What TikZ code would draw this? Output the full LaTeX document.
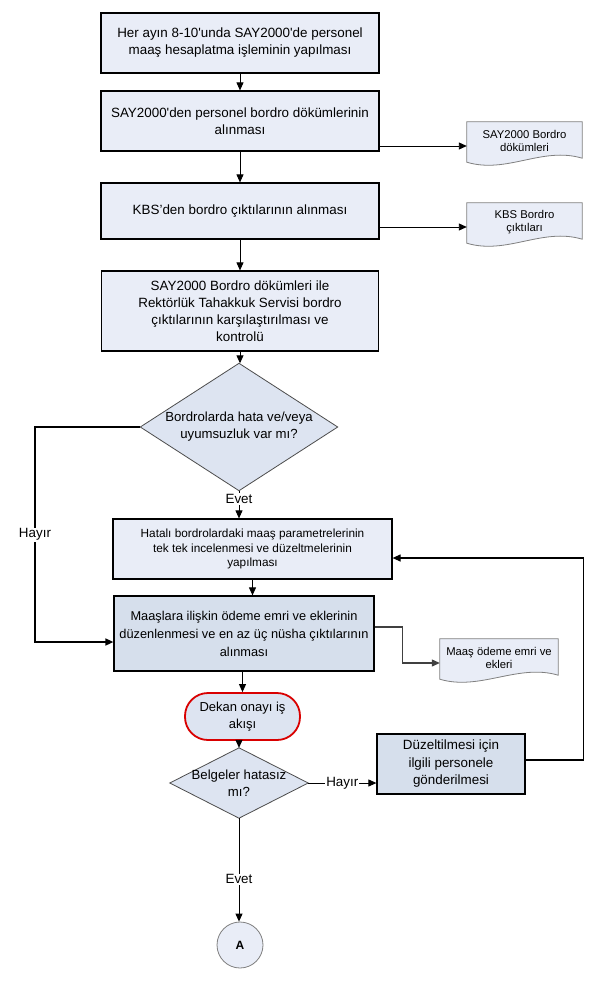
\documentclass[tikz,border=0pt]{standalone}
\usepackage{fontspec}
\setmainfont{Liberation Sans}
\usetikzlibrary{arrows.meta,calc,backgrounds}

\definecolor{kutu}{RGB}{233,237,247}
\definecolor{koyu}{RGB}{214,223,236}
\definecolor{sorurenk}{RGB}{221,228,241}

\begin{document}
\begin{tikzpicture}[x=1pt,y=-1pt,
        islem/.style={draw,line width=1.2pt,fill=kutu,align=center,inner sep=2pt,
            font=\fontsize{13.4}{17}\selectfont},
        islemkoyu/.style={islem,fill=koyu},
        soru/.style={inner sep=0pt,align=center,font=\fontsize{13.2}{17}\selectfont},
        sorucizgi/.style={draw=black!70,line width=0.8pt,fill=sorurenk},
        belge/.style={inner sep=1pt,align=center,font=\fontsize{11.3}{13.5}\selectfont},
        belgecizgi/.style={draw=black!50,line width=0.8pt,fill=kutu},
        bitis/.style={draw=red!85!black,line width=1.8pt,fill=sorurenk,rounded corners=23pt,
            align=center,inner sep=1pt,font=\fontsize{13}{17}\selectfont},
        baglanti/.style={circle,draw=black!50,line width=0.8pt,fill=kutu,minimum size=46pt,
            inner sep=0pt,font=\fontsize{12}{14}\selectfont\bfseries},
        ok/.style={-{Triangle[length=8pt,width=7pt]},line width=0.9pt},
        etiket/.style={fill=white,inner sep=1pt,font=\fontsize{13.4}{16}\selectfont}]

    \useasboundingbox (0,0) rectangle (590,983);

    % ana akis
    \node[islem,minimum width=278pt,minimum height=60pt] (sayhesap) at (240,43)
        {Her ayın 8-10\textquotesingle{}unda SAY2000\textquotesingle{}de personel\\maaş hesaplatma işleminin yapılması};
    \node[islem,minimum width=278pt,minimum height=60pt] (saydokum) at (240,121)
        {SAY2000\textquotesingle{}den personel bordro dökümlerinin\\alınması};
    \node[islem,minimum width=278pt,minimum height=56pt] (kbscikti) at (240,211)
        {KBS’den bordro çıktılarının alınması};
    \node[islem,minimum width=277pt,minimum height=80pt] (karsilas) at (240,311)
        {SAY2000 Bordro dökümleri ile\\Rektörlük Tahakkuk Servisi bordro\\çıktılarının karşılaştırılması ve\\kontrolü};
    \node[soru,minimum width=197pt,minimum height=127pt] (hatavar) at (239,427)
        {Bordrolarda hata ve/veya\\uyumsuzluk var mı?};
    \node[islem,minimum width=279pt,minimum height=60pt,font=\fontsize{11.8}{14.5}\selectfont] (duzelt) at (252.5,549)
        {Hatalı bordrolardaki maaş parametrelerinin\\tek tek incelenmesi ve düzeltmelerinin\\yapılması};
    \node[islemkoyu,minimum width=260pt,minimum height=75pt,font=\fontsize{12.8}{18}\selectfont] (odeme) at (244,633.5)
        {Maaşlara ilişkin ödeme emri ve eklerinin\\düzenlenmesi ve en az üç nüsha çıktılarının\\alınması};
    \node[bitis,minimum width=115pt,minimum height=47pt] (dekan) at (242.5,716.5) {Dekan onayı iş\\akışı};
    \node[soru,minimum width=138pt,minimum height=70pt] (hatasiz) at (239,783) {Belgeler hatasız\\mı?};
    \node[islemkoyu,minimum width=148pt,minimum height=60pt,font=\fontsize{13.4}{17.5}\selectfont] (gonder) at (451,764)
        {Düzeltilmesi için\\ilgili personele\\gönderilmesi};
    \node[baglanti] (conA) at (240,945) {A};

    % belgeler
    \node[belge,minimum width=115pt,minimum height=38pt] (docsay) at (524.5,141) {SAY2000 Bordro\\dökümleri};
    \node[belge,minimum width=115pt,minimum height=38pt] (dockbs) at (524.5,222) {KBS Bordro\\çıktıları};
    \node[belge,minimum width=118pt,minimum height=38pt] (docodeme) at (499,658) {Maaş ödeme emri ve\\ekleri};

    \begin{scope}[on background layer]
        \fill[white] (0,0) rectangle (590,983);
        \foreach \k in {hatavar,hatasiz} {
            \path[sorucizgi] (\k.north) -- (\k.east) -- (\k.south) -- (\k.west) -- cycle;
        }
        \foreach \d in {docsay,dockbs,docodeme} {
            \path[belgecizgi] (\d.north west) -- (\d.north east) -- ($(\d.south east)+(0,-2)$)
                .. controls ($(\d.south east)+(-40,-14)$) and ($(\d.south west)+(40,14)$)
                .. ($(\d.south west)+(0,2)$) -- cycle;
        }
    \end{scope}

    % oklar
    \draw[ok] (sayhesap) -- (saydokum);
    \draw[ok] (saydokum) -- (kbscikti);
    \draw[ok] (kbscikti) -- (karsilas);
    \draw[ok] (karsilas.south) -- (karsilas.south |- hatavar.north);
    \draw[ok] ([yshift=-5pt]docsay.west -| saydokum.east) -- ([yshift=-5pt]docsay.west);
    \draw[ok] ([yshift=-5pt]dockbs.west -| kbscikti.east) -- ([yshift=-5pt]dockbs.west);
    \draw[ok] (hatavar.south) -- node[etiket,pos=0.3] (evet1) {Evet} (hatavar.south |- duzelt.north);
    \draw[ok] (duzelt.south) -- (duzelt.south |- odeme.north);
    \draw[ok] (dekan.north |- odeme.south) -- (dekan.north);
    \draw[ok] (hatasiz.north |- dekan.south) -- (hatasiz.north);

    % hayir dallari
    \coordinate (solkose) at (35,642);
    \draw[ok,line width=1.5pt] (hatavar.west) -| node[etiket,pos=0.75] (hayir1) {Hayır} (solkose)
        -- (solkose -| odeme.west);
    \draw[ok] (hatasiz.east) -- node[etiket] (hayir2) {Hayır} (hatasiz.east -| gonder.west);
    \draw[ok,line width=1.2pt] ([yshift=4pt]gonder.east) -- ++(58,0) |- ([yshift=-9pt]duzelt.east);
    \draw[ok,draw=black!75,line width=1.2pt] ([yshift=6.5pt]odeme.east) -- ++(28,0)
        |- ([yshift=-5pt]docodeme.west);
    \draw[ok] (hatasiz.south) -- node[etiket,pos=0.59] (evet2) {Evet} (hatasiz.south |- conA.north);
\end{tikzpicture}
\end{document}
